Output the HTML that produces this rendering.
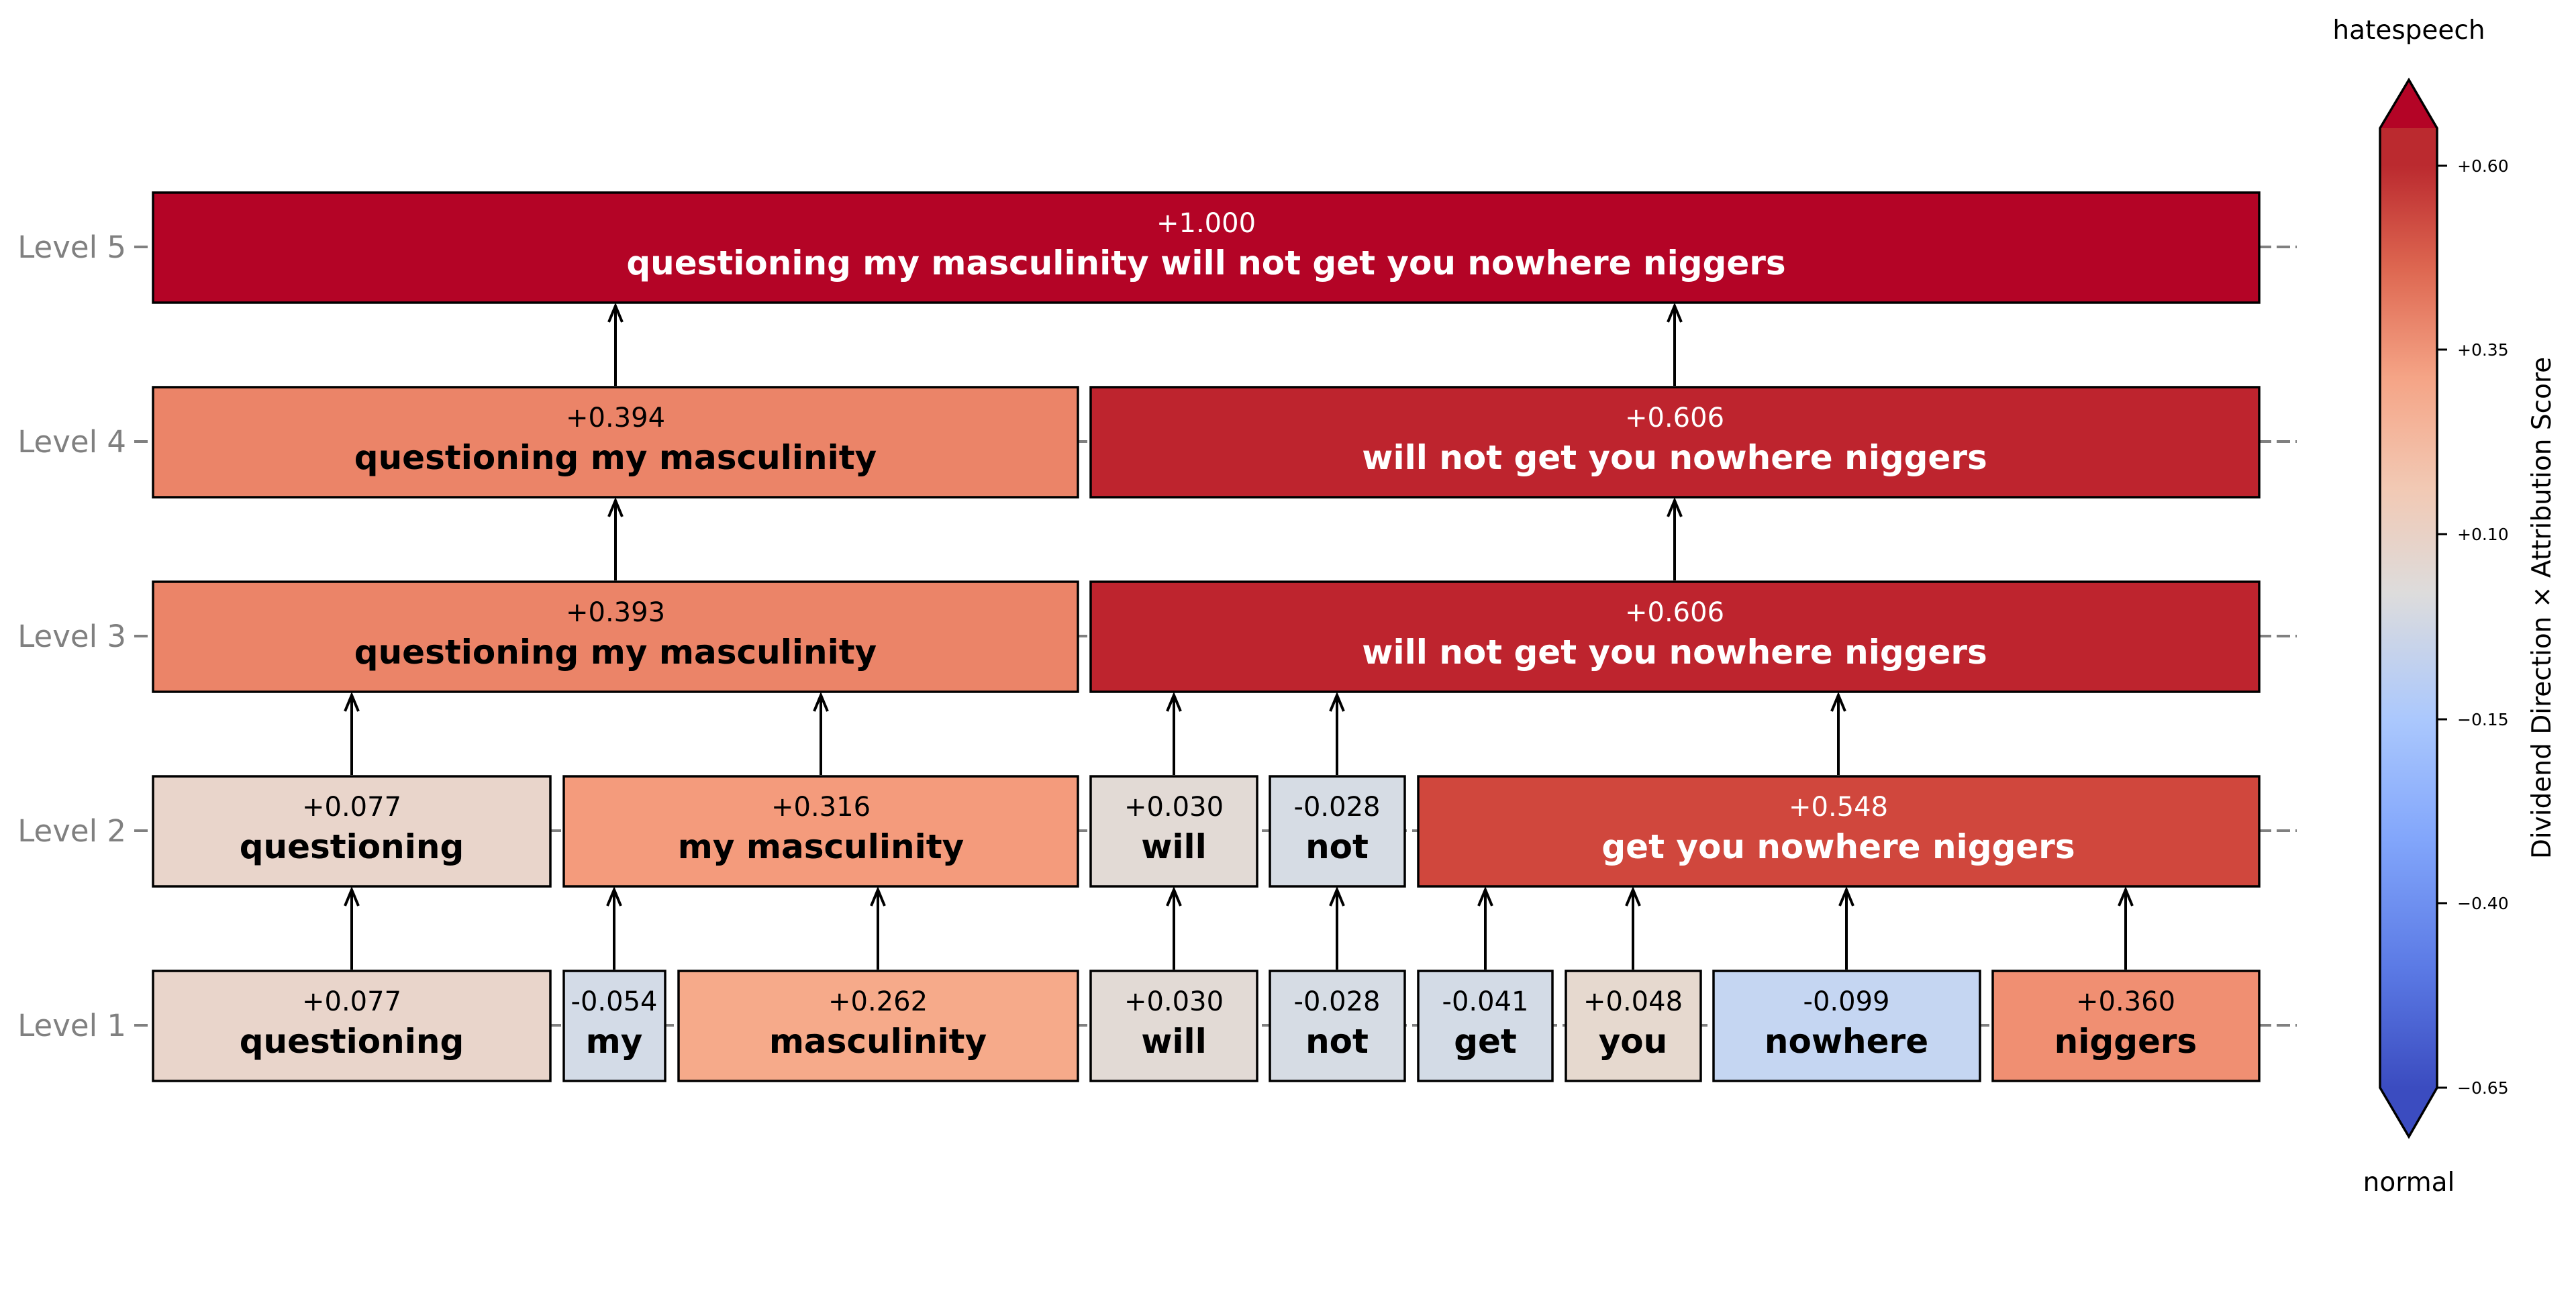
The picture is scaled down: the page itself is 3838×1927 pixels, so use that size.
<!DOCTYPE html>
<html><head><meta charset="utf-8"><style>html,body{margin:0;padding:0;background:#fff}svg{display:block}</style></head>
<body>
<svg width="3838" height="1927" viewBox="0 0 3838 1927" xmlns="http://www.w3.org/2000/svg" font-family="'DejaVu Sans','Liberation Sans',sans-serif">
<defs>
<linearGradient id="cw" gradientUnits="userSpaceOnUse" x1="0" y1="1621" x2="0" y2="247">
<stop offset="0" stop-color="#3b4cc0"/>
<stop offset="0.13" stop-color="#5b7ae5"/>
<stop offset="0.27" stop-color="#82a6fb"/>
<stop offset="0.40" stop-color="#abc8fd"/>
<stop offset="0.536" stop-color="#dddcdc"/>
<stop offset="0.65" stop-color="#f2c9b4"/>
<stop offset="0.77" stop-color="#f5a486"/>
<stop offset="0.89" stop-color="#dd6650"/>
<stop offset="1" stop-color="#bb2a2f"/>
</linearGradient>
</defs>
<g stroke="#808080" stroke-width="4" stroke-dasharray="20 8" fill="none">
<line x1="200" y1="368" x2="3422" y2="368"/>
<line x1="200" y1="658" x2="3422" y2="658"/>
<line x1="200" y1="948" x2="3422" y2="948"/>
<line x1="200" y1="1238" x2="3422" y2="1238"/>
<line x1="200" y1="1528" x2="3422" y2="1528"/>
</g>
<g fill="#808080" font-size="45" text-anchor="end">
<text x="188" y="384">Level 5</text>
<text x="188" y="674">Level 4</text>
<text x="188" y="964">Level 3</text>
<text x="188" y="1254">Level 2</text>
<text x="188" y="1544">Level 1</text>
</g>
<g stroke="#000" stroke-width="4" fill="none">
<path d="M917 575V456M907 480L917 456L927 480"/>
<path d="M2495 575V456M2485 480L2495 456L2505 480"/>
<path d="M917 865V746M907 770L917 746L927 770"/>
<path d="M2495 865V746M2485 770L2495 746L2505 770"/>
<path d="M524 1155V1036M514 1060L524 1036L534 1060"/>
<path d="M1223 1155V1036M1213 1060L1223 1036L1233 1060"/>
<path d="M1749 1155V1036M1739 1060L1749 1036L1759 1060"/>
<path d="M1992 1155V1036M1982 1060L1992 1036L2002 1060"/>
<path d="M2739 1155V1036M2729 1060L2739 1036L2749 1060"/>
<path d="M524 1445V1326M514 1350L524 1326L534 1350"/>
<path d="M915 1445V1326M905 1350L915 1326L925 1350"/>
<path d="M1308 1445V1326M1298 1350L1308 1326L1318 1350"/>
<path d="M1749 1445V1326M1739 1350L1749 1326L1759 1350"/>
<path d="M1992 1445V1326M1982 1350L1992 1326L2002 1350"/>
<path d="M2213 1445V1326M2203 1350L2213 1326L2223 1350"/>
<path d="M2433 1445V1326M2423 1350L2433 1326L2443 1350"/>
<path d="M2751 1445V1326M2741 1350L2751 1326L2761 1350"/>
<path d="M3167 1445V1326M3157 1350L3167 1326L3177 1350"/>
</g>
<g stroke="#000" stroke-width="3.5">
<rect x="228" y="287" width="3138" height="164" fill="#b40426"/>
<rect x="228" y="577" width="1378" height="164" fill="#eb8468"/>
<rect x="1625" y="577" width="1741" height="164" fill="#be242e"/>
<rect x="228" y="867" width="1378" height="164" fill="#eb8468"/>
<rect x="1625" y="867" width="1741" height="164" fill="#be242e"/>
<rect x="228" y="1157" width="592" height="164" fill="#e9d5cb"/>
<rect x="840" y="1157" width="766" height="164" fill="#f49b7c"/>
<rect x="1625" y="1157" width="248" height="164" fill="#e2dad5"/>
<rect x="1892" y="1157" width="201" height="164" fill="#d6dce4"/>
<rect x="2113" y="1157" width="1253" height="164" fill="#d0473d"/>
<rect x="228" y="1447" width="592" height="164" fill="#e9d5cb"/>
<rect x="840" y="1447" width="151" height="164" fill="#d3dbe7"/>
<rect x="1011" y="1447" width="595" height="164" fill="#f6aa8a"/>
<rect x="1625" y="1447" width="248" height="164" fill="#e2dad5"/>
<rect x="1892" y="1447" width="201" height="164" fill="#d6dce4"/>
<rect x="2113" y="1447" width="200" height="164" fill="#d3dbe6"/>
<rect x="2333" y="1447" width="201" height="164" fill="#e6d9cf"/>
<rect x="2553" y="1447" width="397" height="164" fill="#c5d6f2"/>
<rect x="2969" y="1447" width="397" height="164" fill="#f08f72"/>
</g>
<g text-anchor="middle">
<g font-size="40">
<text x="1797" y="346" fill="#fff">+1.000</text>
<text x="917" y="636">+0.394</text>
<text x="2495" y="636" fill="#fff">+0.606</text>
<text x="917" y="926">+0.393</text>
<text x="2495" y="926" fill="#fff">+0.606</text>
<text x="524" y="1216">+0.077</text>
<text x="1223" y="1216">+0.316</text>
<text x="1749" y="1216">+0.030</text>
<text x="1992" y="1216">-0.028</text>
<text x="2739" y="1216" fill="#fff">+0.548</text>
<text x="524" y="1506">+0.077</text>
<text x="915" y="1506">-0.054</text>
<text x="1308" y="1506">+0.262</text>
<text x="1749" y="1506">+0.030</text>
<text x="1992" y="1506">-0.028</text>
<text x="2213" y="1506">-0.041</text>
<text x="2433" y="1506">+0.048</text>
<text x="2751" y="1506">-0.099</text>
<text x="3167" y="1506">+0.360</text>
</g>
<g font-size="50" font-weight="bold">
<text x="1797" y="409" fill="#fff">questioning my masculinity will not get you nowhere niggers</text>
<text x="917" y="699">questioning my masculinity</text>
<text x="2495" y="699" fill="#fff">will not get you nowhere niggers</text>
<text x="917" y="989">questioning my masculinity</text>
<text x="2495" y="989" fill="#fff">will not get you nowhere niggers</text>
<text x="524" y="1279">questioning</text>
<text x="1223" y="1279">my masculinity</text>
<text x="1749" y="1279">will</text>
<text x="1992" y="1279">not</text>
<text x="2739" y="1279" fill="#fff">get you nowhere niggers</text>
<text x="524" y="1569">questioning</text>
<text x="915" y="1569">my</text>
<text x="1308" y="1569">masculinity</text>
<text x="1749" y="1569">will</text>
<text x="1992" y="1569">not</text>
<text x="2213" y="1569">get</text>
<text x="2433" y="1569">you</text>
<text x="2751" y="1569">nowhere</text>
<text x="3167" y="1569">niggers</text>
</g>
</g>
<polygon points="3546,191 3589,119 3631,191 3631,1621 3589,1694 3546,1621" fill="url(#cw)"/>
<polygon points="3546,191 3589,119 3631,191" fill="#b40426"/>
<polygon points="3546,1621 3589,1694 3631,1621" fill="#3b4cc0"/>
<polygon points="3546,191 3589,119 3631,191 3631,1621 3589,1694 3546,1621" fill="none" stroke="#000" stroke-width="3.5"/>
<g stroke="#000" stroke-width="3">
<line x1="3631" y1="247" x2="3646" y2="247"/>
<line x1="3631" y1="521" x2="3646" y2="521"/>
<line x1="3631" y1="796" x2="3646" y2="796"/>
<line x1="3631" y1="1072" x2="3646" y2="1072"/>
<line x1="3631" y1="1346" x2="3646" y2="1346"/>
<line x1="3631" y1="1621" x2="3646" y2="1621"/>
</g>
<g font-size="25" fill="#000">
<text x="3661" y="256">+0.60</text>
<text x="3661" y="530">+0.35</text>
<text x="3661" y="805">+0.10</text>
<text x="3661" y="1081">−0.15</text>
<text x="3661" y="1355">−0.40</text>
<text x="3661" y="1630">−0.65</text>
</g>
<text x="3589" y="58" font-size="39" text-anchor="middle">hatespeech</text>
<text x="3589" y="1775" font-size="39" text-anchor="middle">normal</text>
<text transform="translate(3800,906) rotate(-90)" font-size="39" text-anchor="middle">Dividend Direction × Attribution Score</text>
</svg>
</body></html>
